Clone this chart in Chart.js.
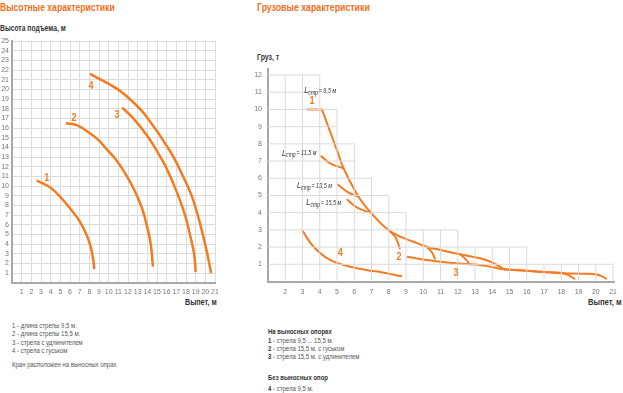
<!DOCTYPE html>
<html>
<head>
<meta charset="utf-8">
<script src="https://cdn.jsdelivr.net/npm/chart.js@4.4.0/dist/chart.umd.min.js"></script>
<style>
body { margin: 0; background: #fff; width: 623px; height: 393px; position: relative; overflow: hidden;
       font-family: "Liberation Sans", Arial, sans-serif; }
.t { position: absolute; white-space: nowrap; line-height: 1; transform-origin: 0 50%; }
.title { font-size: 11px; font-weight: bold; color: #f26f21; }
.axt { font-size: 8.5px; font-weight: bold; color: #333; }
.leg { font-size: 7.5px; color: #555; transform: scaleX(0.8); }
.leg b { color: #333; }
canvas { position: absolute; top: 0; }
</style>
</head>
<body>
<div class="t title" data-w="115" style="left:0;top:1.5px">Высотные характеристики</div>
<div class="t axt" data-w="66" style="left:0;top:23.5px">Высота подъема, м</div>
<div class="t axt" data-w="32" style="left:185px;top:297.5px">Выпет, м</div>

<div class="t title" data-w="113" style="left:257px;top:1.5px">Грузовые характеристики</div>
<div class="t axt" data-w="22" style="left:257px;top:52.5px">Груз, т</div>
<div class="t axt" data-w="34" style="left:588px;top:297.5px">Выпет, м</div>

<div class="t leg" style="left:12px;top:322px">1 - длина стрелы 9,5 м.</div>
<div class="t leg" style="left:12px;top:330.3px">2 - длина стрелы 15,5 м.</div>
<div class="t leg" style="left:12px;top:338.7px">3 - стрела с удлинителем</div>
<div class="t leg" style="left:12px;top:347px">4 - стрела с гуськом</div>
<div class="t leg" style="left:12px;top:361px">Кран расположен на выносных опрах</div>

<div class="t leg" style="left:268px;top:328.3px"><b>На выносных опорах</b></div>
<div class="t leg" style="left:268px;top:336.7px"><b>1</b> - стрела 9,5 ... 15,5 м.</div>
<div class="t leg" style="left:268px;top:345px"><b>2</b> - стрела 15,5 м. с гуськом</div>
<div class="t leg" style="left:268px;top:353.3px"><b>3</b> - стрела 15,5 м. с удлинителем</div>
<div class="t leg" style="left:268px;top:374.3px"><b>Без выносных опор</b></div>
<div class="t leg" style="left:268px;top:384.7px"><b>4</b> - стрела 9,5 м.</div>

<canvas id="heights" width="240" height="300" style="left:0"></canvas>
<canvas id="loads" width="373" height="300" style="left:250px"></canvas>

<script>
// --- Высотные характеристики: [вылет, высота]
var height1 = [[2.55,10.55],[3.93,9.87],[4.96,8.9],[6.0,7.7],[7.03,6.3],[7.72,4.93],[8.14,3.72],[8.41,2.35],[8.51,1.4]];
var height2 = [[5.55,16.5],[6.69,16.3],[8.07,15.45],[9.0,14.7],[9.8,13.8],[10.7,12.8],[11.5,11.65],[12.5,9.9],[13.4,7.86],[13.9,6.1],[14.34,4.07],[14.58,1.65]];
var height3 = [[11.4,18.1],[12.55,17.0],[13.93,15.27],[15.0,13.6],[16.0,11.8],[17.0,9.5],[17.9,7.0],[18.45,4.8],[18.85,2.9],[19.0,1.1]];
var height4 = [[8.07,21.6],[10.8,20.1],[12.4,18.8],[13.9,17.2],[16.3,13.7],[17.6,11.2],[18.75,8.55],[19.96,4.07],[20.6,1.0]];

// --- Грузовые характеристики: [вылет, груз]
var load1Top = [[3.26,10],[4.13,10],[5.0,7.62]];
var load1 = [[5.0,7.62],[5.38,6.58],[6.25,4.93],[7.05,3.9],[7.98,2.99],[8.8,2.55],[9.43,2.31],[10.2,2.02],[11.0,1.83],[12.14,1.58],[13.3,1.35],[13.9,1.15],[14.35,0.92],[14.65,0.71]];
var boom115 = [[4.06,7.3],[4.6,6.87],[5.38,6.58]];
var boom135 = [[5.03,5.65],[5.67,5.16],[6.25,4.93]];
var boom155 = [[5.57,4.78],[6.15,4.31],[7.02,3.96]];
var dropA = [[7.98,2.99],[8.37,2.6],[8.65,1.9]];
var dropB = [[10.2,2.02],[10.5,1.7],[10.69,1.29]];
var dropC = [[12.14,1.58],[12.45,1.3],[12.72,0.96]];
var load2 = [[9.05,1.44],[10.2,1.25],[11.37,1.11],[12.3,1.03],[13.3,0.96],[13.88,0.86],[14.65,0.71],[16.0,0.62],[17.0,0.55],[18.1,0.48],[18.5,0.32],[18.8,0.13]];
var load3 = [[14.65,0.71],[16.0,0.62],[17.0,0.55],[18.1,0.48],[19.2,0.45],[20.05,0.41],[20.4,0.28],[20.63,0.13]];
var load4 = [[2.97,2.99],[3.64,2.02],[4.6,1.25],[5.77,0.86],[6.92,0.63],[7.5,0.55],[8.76,0.3]];

// ступенчатая сетка грузовой диаграммы
var loadGridX = [1, 4, 5, 6, 7, 8, 9, 12, 16, 21];
var loadGridTop = [12, 10, 8, 6, 5, 4, 3, 2, 1];

// подписи
var heightNums = [['1', 3.59, 10.8], ['2', 6.41, 17.06], ['3', 10.86, 17.34], ['4', 8.17, 20.34]];
var loadNums = [['1', 3.55, 10.5], ['2', 8.6, 1.41], ['3', 11.9, 0.51], ['4', 5.19, 1.67]];
var boomLabels = [['9,5', 3.1, 11.08], ['11,5', 1.81, 7.47], ['13,5', 2.68, 5.57], ['15,5', 3.22, 4.58]];

// сжать заголовки до нужной ширины (узкий шрифт)
document.querySelectorAll('[data-w]').forEach(function (el) {
  el.style.transform = 'scaleX(' + (el.dataset.w / el.offsetWidth) + ')';
});

var ORANGE = '#f47b20';
var FONT = '"Liberation Sans", Arial, sans-serif';
Chart.defaults.font.family = FONT;
Chart.defaults.font.size = 7;
Chart.defaults.color = '#777';

function pts(arr) { return arr.map(function (p) { return {x: p[0], y: p[1]}; }); }

function curve(arr, w, tension) {
  return {data: pts(arr), showLine: true, borderColor: ORANGE, borderWidth: w,
          pointRadius: 0, tension: tension === undefined ? 0.4 : tension, fill: false};
}

function stairGrid(xs, tops) {
  var out = [];
  var yMax = Math.max.apply(null, tops);
  for (var y = 1; y <= yMax; y++) {
    var xr = xs[0];
    for (var i = 0; i < tops.length; i++) if (tops[i] >= y) xr = Math.max(xr, xs[i + 1]);
    out.push({x: xs[0], y: y}, {x: xr, y: y}, {x: xr, y: null});
  }
  for (var x = xs[0] + 1; x <= xs[xs.length - 1]; x++) {
    var t = 0;
    for (var j = 0; j < tops.length; j++) if (x >= xs[j] && x <= xs[j + 1]) t = Math.max(t, tops[j]);
    out.push({x: x, y: 0}, {x: x, y: t}, {x: x, y: null});
  }
  return out;
}

// подписи кривых в координатах данных
var curveLabels = {
  id: 'curveLabels',
  afterDatasetsDraw: function (chart, args, opts) {
    var ctx = chart.ctx, sx = chart.scales.x, sy = chart.scales.y;
    ctx.save();
    ctx.textBaseline = 'middle';
    (opts.nums || []).forEach(function (n) {
      ctx.save();
      ctx.translate(sx.getPixelForValue(n[1]), sy.getPixelForValue(n[2]));
      ctx.scale(0.82, 1);
      ctx.font = 'bold 11px ' + FONT;
      ctx.fillStyle = ORANGE;
      ctx.textAlign = 'center';
      ctx.fillText(n[0], 0, 0);
      ctx.restore();
    });
    (opts.booms || []).forEach(function (b) {
      ctx.save();
      ctx.translate(sx.getPixelForValue(b[1]), sy.getPixelForValue(b[2]));
      ctx.scale(0.78, 1);
      ctx.fillStyle = '#333';
      ctx.textAlign = 'left';
      var px = 0;
      ctx.font = 'italic 9.5px ' + FONT;
      ctx.fillText('L', px, 0);
      px += ctx.measureText('L').width;
      ctx.font = 'italic 6.5px ' + FONT;
      ctx.fillText('стр', px, 2.5);
      px += ctx.measureText('стр').width + 1;
      ctx.font = 'italic 7px ' + FONT;
      ctx.fillText('= ' + b[0] + ' м', px, 0);
      ctx.restore();
    });
    ctx.restore();
  }
};

function hideZero(v) { return v === 0 ? '' : v; }

new Chart(document.getElementById('heights'), {
  type: 'scatter',
  data: {datasets: [curve(height1, 2.5), curve(height2, 2.5), curve(height3, 2.5), curve(height4, 2.5)]},
  options: {
    responsive: false, animation: false,
    layout: {padding: {top: 41, right: 25, left: 0, bottom: 0}},
    plugins: {legend: {display: false}, tooltip: {enabled: false}, curveLabels: {nums: heightNums}},
    scales: {
      x: {type: 'linear', min: 0, max: 21,
          ticks: {stepSize: 1, autoSkip: false, maxRotation: 0, padding: 5, callback: hideZero},
          grid: {color: '#dcdcdc', drawTicks: false}, border: {color: '#a8a8a8', width: 2},
          afterFit: function (s) { s.height = 17.3; }},
      y: {min: 0, max: 25,
          ticks: {stepSize: 1, autoSkip: false, padding: 3, callback: hideZero},
          grid: {color: '#dcdcdc', drawTicks: false}, border: {color: '#a8a8a8', width: 2},
          afterFit: function (s) { s.width = 12; }}
    }
  },
  plugins: [curveLabels]
});

var gridSet = {data: stairGrid(loadGridX, loadGridTop), showLine: true, borderColor: '#dadada',
               borderWidth: 1, pointRadius: 0, tension: 0, spanGaps: false};

new Chart(document.getElementById('loads'), {
  type: 'scatter',
  data: {datasets: [gridSet,
    curve(load1Top, 2, 0), curve(load1, 2), curve(boom115, 2), curve(boom135, 2), curve(boom155, 2),
    curve(dropA, 2), curve(dropB, 2), curve(dropC, 2), curve(load2, 2), curve(load3, 2), curve(load4, 2)]},
  options: {
    responsive: false, animation: false,
    layout: {padding: {top: 69, right: 8, left: 0, bottom: 0}},
    plugins: {legend: {display: false}, tooltip: {enabled: false},
      curveLabels: {nums: loadNums, booms: boomLabels}},
    scales: {
      x: {type: 'linear', min: 1, max: 21.1,
          ticks: {stepSize: 1, autoSkip: false, maxRotation: 0, padding: 6, includeBounds: false,
                  callback: function (v) { return v <= 1 ? '' : v; }},
          grid: {color: 'rgba(0,0,0,0)', drawTicks: false}, border: {color: '#a8a8a8', width: 2},
          afterFit: function (s) { s.height = 18.5; }},
      y: {min: 0, max: 12.35,
          ticks: {stepSize: 1, autoSkip: false, padding: 6, includeBounds: false, callback: hideZero},
          grid: {color: 'rgba(0,0,0,0)', drawTicks: false}, border: {color: '#a8a8a8', width: 2},
          afterFit: function (s) { s.width = 18; }}
    }
  },
  plugins: [curveLabels]
});
</script>
</body>
</html>
